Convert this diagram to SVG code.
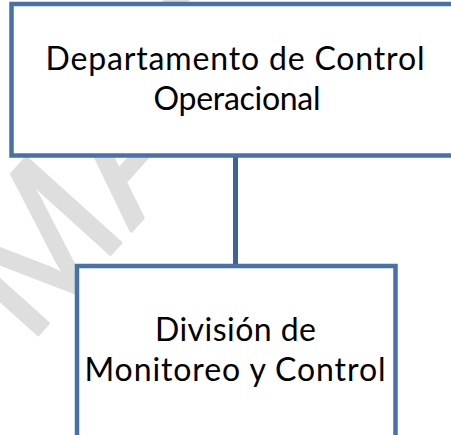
<svg xmlns="http://www.w3.org/2000/svg" width="451" height="435" viewBox="0 0 451 435">
<style>
.box{fill:#ffffff;stroke:#4672a8;stroke-width:4.5}
.lbl{font-family:Lato,"Open Sans","Liberation Sans",sans-serif;font-size:32px;fill:#000000;text-anchor:middle}
.wm{font-family:"Liberation Sans",Arial,sans-serif;font-size:185px;fill:#dedede;stroke:#dedede;stroke-width:3;stroke-linejoin:round}
.conn{stroke:#3c6494;stroke-width:5;fill:none}
</style>
<rect width="451" height="435" fill="#ffffff"/>
<text class="wm" transform="translate(28,346) rotate(-48)">MAC</text>
<g id="connectors">
<line class="conn" x1="235.5" y1="155.5" x2="235.5" y2="266"/>
</g>
<g id="node-departamento">
<rect class="box" x="11.5" y="4" width="450" height="151.5"/>
<text class="lbl" x="235" y="70" textLength="379">Departamento de Control</text>
<text class="lbl" x="237" y="110" textLength="167">Operacional</text>
</g>
<g id="node-division">
<rect class="box" x="77" y="266" width="318.5" height="200"/>
<text class="lbl" x="235.5" y="341" textLength="161">División de</text>
<text class="lbl" x="235" y="381" textLength="301">Monitoreo y Control</text>
</g>
</svg>
